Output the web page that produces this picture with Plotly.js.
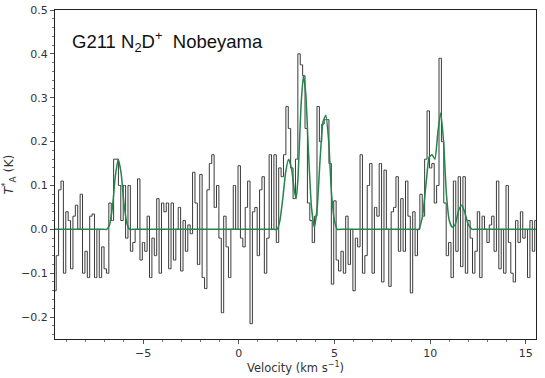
<!DOCTYPE html>
<html>
<head>
<meta charset="utf-8">
<script src="https://cdn.plot.ly/plotly-3.0.1.min.js"></script>
<style>
  html, body { margin: 0; padding: 0; background: #fff; }
  #plotArea { width: 545px; height: 378px; }
</style>
</head>
<body>
<div id="plotArea"></div>
<script>
// spectrum channels: first channel velocity and channel width (km/s)
var vStart = -9.6;
var dv = 0.125;

// antenna temperature per channel (K)
var ta = [
  -0.14, -0.06, 0.09, 0.11, -0.1, 0.04, 0.02, -0.09, 0.03, 0.055,
  0.0, 0.08, -0.1, -0.05, -0.11, 0.03, 0.035, -0.11, 0.0, -0.11,
  -0.04, -0.09, -0.1, 0.06, 0.02, 0.16, 0.16, 0.1, 0.02, 0.1,
  -0.02, 0.1, -0.05, -0.03, 0.0, 0.115, -0.07, -0.03, -0.05, 0.03,
  -0.11, -0.02, -0.06, 0.07, -0.1, 0.06, 0.04, 0.06, -0.09, 0.06,
  -0.07, 0.0, 0.05, -0.095, 0.02, -0.05, 0.01, -0.01, 0.13, 0.06,
  -0.08, 0.125, -0.11, -0.135, 0.09, 0.15, 0.17, 0.05, 0.1, -0.02,
  -0.19, 0.03, -0.04, -0.11, 0.0, 0.1, 0.0, 0.145, -0.02, -0.04,
  0.05, 0.11, -0.215, 0.04, 0.05, -0.06, 0.09, 0.12, -0.1, -0.02,
  0.17, 0.0, 0.17, -0.03, 0.14, 0.12, 0.17, 0.28, 0.23, 0.14,
  0.07, 0.16, 0.40, 0.375, 0.35, 0.23, 0.06, 0.02, -0.03, 0.03,
  0.28, 0.2, 0.24, 0.25, 0.25, 0.15, -0.125, 0.065, -0.07, -0.095,
  -0.05, -0.1, 0.03, -0.08, 0.0, -0.14, -0.02, -0.04, 0.17, -0.1,
  -0.06, 0.1, 0.15, -0.1, 0.05, 0.03, 0.15, -0.12, 0.135, 0.0,
  -0.13, 0.04, 0.05, 0.12, -0.05, 0.07, -0.05, 0.11, 0.03, -0.145,
  0.04, -0.06, 0.0, 0.08, 0.03, 0.16, 0.27, 0.14, 0.15, 0.06,
  0.1, 0.39, 0.2, 0.06, -0.06, -0.03, -0.11, 0.11, -0.05, 0.12,
  -0.085, 0.12, -0.1, 0.02, -0.02, -0.1, -0.05, 0.04, -0.11, 0.03,
  0.0, -0.03, 0.01, 0.03, -0.05, 0.11, -0.09, 0.0, -0.1, 0.1,
  -0.03, -0.1, -0.12, 0.02, -0.03, 0.04, -0.02, 0.0, -0.11, 0.02,
  -0.05, 0.02
];

// hyperfine fit, sampled off the green curve
var fitV = [-9.6, -7.05, -6.9, -6.75, -6.6, -6.45, -6.3, -6.15, -6.0, -5.85, -5.7, -5.55,
  1.85, 2.0, 2.15, 2.3, 2.45, 2.6, 2.75, 2.9, 3.0, 3.1, 3.25, 3.38, 3.5, 3.65, 3.8, 3.95,
  4.1, 4.25, 4.4, 4.55, 4.7, 4.85, 5.0, 5.15, 5.3,
  9.25, 9.4, 9.6, 9.8, 9.95, 10.1, 10.25, 10.4, 10.55, 10.7, 10.85, 11.0, 11.15,
  11.3, 11.5, 11.65, 11.8, 12.0, 12.2, 12.35, 15.53];
var fitT = [0, 0, 0, 0.01, 0.05, 0.12, 0.16, 0.13, 0.06, 0.015, 0, 0,
  0, 0, 0.02, 0.07, 0.13, 0.16, 0.14, 0.09, 0.07, 0.12, 0.28, 0.35, 0.31, 0.17, 0.05, 0.005,
  0.05, 0.16, 0.245, 0.26, 0.2, 0.08, 0.02, 0, 0,
  0, 0, 0.03, 0.11, 0.165, 0.17, 0.16, 0.22, 0.265, 0.2, 0.08, 0.02, 0.005,
  0.01, 0.045, 0.055, 0.04, 0.01, 0, 0, 0];

var spec = {
  y: ta,
  x0: vStart,
  dx: dv,
  type: "scatter",
  mode: "lines",
  line: {color: "#3a3a3a", width: 1, shape: "hvh"},
  hoverinfo: "skip"
};

var fit = {
  x: fitV,
  y: fitT,
  type: "scatter",
  mode: "lines",
  line: {color: "#24844a", width: 1.5, shape: "spline", smoothing: 0.5},
  hoverinfo: "skip"
};

var tickFont = {family: "DejaVu Sans", size: 11, color: "#333"};

var layout = {
  width: 545,
  height: 378,
  margin: {l: 55, r: 9, t: 10, b: 39},
  paper_bgcolor: "#fff",
  plot_bgcolor: "#fff",
  showlegend: false,
  xaxis: {
    range: [-9.6, 15.53],
    dtick: 5,
    tick0: 0,
    ticks: "outside",
    ticklen: 4,
    tickcolor: "#555",
    minor: {dtick: 1, ticks: "outside", ticklen: 2, tickcolor: "#777"},
    showgrid: false,
    zeroline: false,
    showline: true,
    linecolor: "#222",
    linewidth: 1,
    mirror: true,
    tickfont: tickFont,
    title: {text: "Velocity (km s<sup>\u22121</sup>)", font: {family: "DejaVu Sans", size: 11.5, color: "#333"}, standoff: 2}
  },
  yaxis: {
    range: [-0.25, 0.5],
    dtick: 0.1,
    tick0: 0,
    tickformat: ".1f",
    ticks: "outside",
    ticklen: 4,
    tickcolor: "#555",
    minor: {dtick: 0.02, ticks: "outside", ticklen: 2, tickcolor: "#777"},
    showgrid: false,
    zeroline: false,
    showline: true,
    linecolor: "#222",
    linewidth: 1,
    mirror: true,
    tickfont: tickFont,
    title: {text: "<i>T</i><sup>*</sup><sub>A</sub> (K)", font: {family: "DejaVu Sans", size: 12.5, color: "#333"}, standoff: 7}
  },
  annotations: [{
    text: "G211 N<sub>2</sub>D<sup>+</sup>  Nobeyama",
    xref: "paper", yref: "paper",
    x: 0.031, y: 0.905,
    xanchor: "left", yanchor: "middle",
    showarrow: false,
    font: {family: "Liberation Sans", size: 18.5, color: "#111"}
  }]
};

Plotly.newPlot("plotArea", [spec, fit], layout, {staticPlot: true});
</script>
</body>
</html>
